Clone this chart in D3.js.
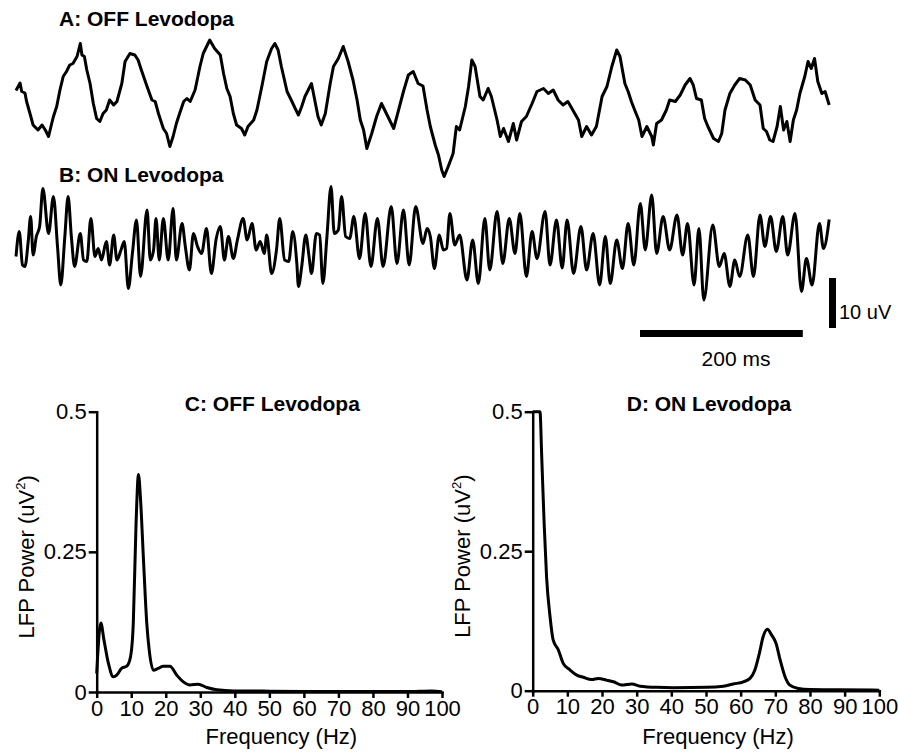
<!DOCTYPE html>
<html>
<head>
<meta charset="utf-8">
<script src="https://cdn.jsdelivr.net/npm/d3@7"></script>
<style>
  body { margin: 0; background: #fff; }
  svg { display: block; font-family: "Liberation Sans", Arial, sans-serif; }
  .axis path, .axis line { stroke: #000; stroke-width: 2.5; }
  .axis text { font-size: 22px; fill: #000; }
</style>
</head>
<body>
<svg id="chart" width="899" height="754"></svg>
<script>
// raw LFP traces, [time ms, uV]
var traceOff = [[0,2.9],[5,4.4],[7,2.7],[11,2.4],[13,0.7],[17,-1.6],[21,-4.0],[27,-5.0],[32,-4.0],[36,-5.0],[40,-6.3],[44,-3.6],[46,-2.3],[50,-0.3],[54,3.0],[58,5.7],[62,6.7],[66,8.0],[70,8.3],[75,9.7],[79,12.3],[81,10.0],[84,9.7],[87,7.0],[91,4.3],[95,0.3],[99,-2.7],[103,-3.3],[107,-1.7],[111,-1.0],[115,1.0],[120,0],[124,0.7],[130,4.3],[134,8.7],[140,10.3],[146,10.0],[150,9.0],[154,7.0],[161,3.7],[167,1.0],[171,0.7],[175,-1.7],[181,-4.7],[185,-5.7],[189,-8.3],[193,-6.3],[197,-3.7],[201,-1.7],[206,0.7],[210,1.3],[214,0.7],[220,3.0],[226,7.7],[230,10.3],[238,13.0],[244,11.3],[251,10.0],[255,6.3],[259,3.3],[263,1.7],[267,-1.7],[271,-4.0],[277,-4.7],[281,-6.0],[285,-4.3],[292,-3.0],[296,-1.0],[302,3.7],[308,8.7],[314,11.3],[318,12.3],[322,11.0],[326,7.7],[333,2.7],[339,0.7],[343,-0.7],[347,-2.0],[351,-0.3],[355,1.7],[359,3.0],[363,4.3],[367,1.0],[371,-2.3],[375,-4.0],[380,-1.7],[386,4.3],[390,7.7],[396,9.3],[402,11.7],[408,8.7],[414,5.0],[419,1.0],[423,-3.0],[427,-5.0],[431,-8.7],[437,-5.7],[443,-2.3],[449,0.3],[455,-1.7],[464,-4.7],[470,-1.0],[476,2.7],[482,6.0],[488,6.7],[494,4.3],[500,3.8],[505,-1.0],[509,-4.3],[515,-8.0],[519,-10.0],[523,-13.0],[526,-14.3],[531,-12.3],[537,-9.7],[541,-4.3],[545,-5.0],[552,-0.3],[556,3.7],[560,9.0],[564,7.7],[570,1.7],[574,1.0],[580,3.3],[584,1.7],[591,-3.0],[595,-6.3],[599,-4.7],[605,-7.3],[611,-3.7],[615,-7.0],[621,-3.3],[627,-2.3],[634,0.3],[640,2.7],[648,3.3],[654,2.3],[660,3.0],[666,1.0],[672,0],[678,0.7],[684,-1.0],[691,-3.0],[695,-6.3],[701,-4.3],[707,-6.0],[713,-4.3],[720,1.7],[726,3.7],[732,7.7],[738,11.0],[742,9.7],[748,4.3],[752,2.7],[756,0.7],[760,-1.0],[765,-3.0],[769,-6.3],[775,-4.3],[781,-6.3],[783,-8.0],[787,-3.7],[793,-3.0],[799,-1.0],[803,1.0],[810,0.7],[816,2.0],[822,4.0],[828,5.3],[832,4.0],[836,1.3],[842,1.0],[846,-2.7],[850,-4.3],[857,-6.7],[863,-7.3],[867,-5.7],[871,-1.0],[877,2.3],[883,4.0],[889,5.3],[896,5.0],[902,4.0],[908,1.0],[914,0],[918,-4.7],[922,-5.3],[926,-7.0],[930,-7.3],[935,-4.3],[939,-0.3],[943,-5.0],[947,-3.3],[951,-7.3],[955,-3.0],[959,-1.0],[963,2.3],[969,5.7],[973,8.7],[977,7.3],[981,9.3],[985,4.7],[990,2.3],[994,2.7],[999,0]];

var traceOn = [[0,-3.3],[4,1.7],[8,-5.0],[11,-5.3],[15,-0.3],[18,4.7],[21,-3.0],[25,0.7],[29,2.7],[33,10.3],[40,1.3],[46,8.7],[51,-1.3],[55,-9.0],[60,0.7],[64,8.7],[68,0.7],[72,-5.3],[79,1.3],[83,-4.0],[87,-4.3],[92,4.3],[97,-3.3],[101,-1.7],[105,-4.0],[111,-0.3],[115,-5.0],[120,1.0],[124,-4.0],[129,-2.0],[133,-0.3],[138,-9.7],[143,-2.7],[148,4.0],[153,-7.3],[161,6.0],[165,-4.0],[169,-2.0],[172,4.3],[176,-4.0],[181,4.3],[187,-4.0],[193,6.3],[197,-4.0],[204,3.3],[208,-1.3],[213,-6.0],[218,1.3],[223,-1.3],[228,-2.7],[234,2.3],[240,-6.7],[246,0.3],[251,2.7],[256,-4.0],[261,0.7],[267,-3.7],[272,0],[279,4.3],[284,0],[290,3.3],[295,-2.0],[300,-0.3],[305,-2.7],[308,1.0],[314,-6.7],[320,-2.0],[324,4.3],[330,-4.0],[335,-4.3],[340,1.7],[345,-4.7],[347,-9.3],[351,-5.3],[356,1.0],[360,-3.3],[363,-6.7],[369,1.3],[373,1.0],[377,-8.7],[382,0.7],[387,10.7],[391,1.3],[396,2.0],[400,8.7],[405,0.7],[410,0.3],[415,4.7],[422,-3.7],[429,5.3],[436,-5.3],[444,4.3],[451,-5.3],[461,6.7],[468,-4.7],[476,6.0],[483,-5.0],[491,6.7],[500,-0.7],[505,2.3],[509,0.7],[514,-5.7],[520,1.0],[525,-2.0],[529,-1.7],[533,5.3],[539,-1.0],[545,1.0],[554,-8.0],[561,0],[568,-8.7],[576,4.3],[582,-6.0],[591,5.7],[598,-4.7],[606,4.3],[613,-2.7],[619,5.3],[627,-7.3],[634,1.7],[640,-3.7],[650,5.7],[656,-5.0],[664,4.0],[671,-5.6],[677,4.0],[685,-6.7],[694,2.7],[701,-6.0],[709,1.3],[717,-9.0],[724,0.7],[730,-8.7],[738,0],[745,-5.7],[752,3.3],[759,-5.0],[767,7.3],[773,-2.0],[781,9.0],[787,-2.7],[795,4.7],[803,-2.0],[812,5.0],[819,-3.0],[825,3.3],[833,-9.0],[839,2.3],[845,-12.0],[856,3.0],[864,-5.3],[870,-2.7],[877,-9.3],[883,-4.0],[889,-7.3],[899,1.0],[906,-7.3],[914,5.0],[920,-1.3],[927,4.7],[934,-2.3],[942,4.7],[948,-3.0],[957,5.3],[965,-10.3],[971,-3.7],[978,-9.0],[987,3.3],[992,-1.7],[999,4.1]];

// power spectra
var offFreq  = [0, 0.8, 1.2, 2.1, 3.4, 4.8, 5.8, 7.2, 8.7, 9.8, 10.6, 11.4, 12.1, 12.7, 13.5, 14.5, 15.2, 16.4, 17.8, 19.3, 21.2, 23.2, 25.1, 27, 29.4, 31.9, 34.8, 39.7, 45, 50, 60, 70, 80, 90, 97, 100];
var offPower = [0.033, 0.11, 0.123, 0.093, 0.051, 0.027, 0.030, 0.042, 0.046, 0.063, 0.123, 0.301, 0.388, 0.343, 0.242, 0.123, 0.075, 0.039, 0.042, 0.046, 0.046, 0.030, 0.018, 0.0125, 0.014, 0.008, 0.004, 0.002, 0.002, 0.0015, 0.001, 0.001, 0.0008, 0.0008, 0.002, 0.0005];
var onFreq  = [0, 1, 2.1, 2.6, 3.3, 4.0, 5.0, 5.9, 7.4, 8.8, 10.8, 12.7, 14.6, 17, 18.9, 21.3, 23.3, 25.7, 28.6, 31, 35.8, 40.6, 50.2, 55, 57.9, 60.8, 62.7, 64.1, 65.4, 66.5, 67.7, 68.9, 70.2, 71.4, 72.8, 74.2, 76.6, 80, 88, 100];
var onPower = [0.5, 0.5, 0.5, 0.42, 0.30, 0.204, 0.133, 0.091, 0.073, 0.049, 0.037, 0.028, 0.024, 0.020, 0.022, 0.019, 0.016, 0.010, 0.012, 0.008, 0.006, 0.0055, 0.006, 0.008, 0.012, 0.016, 0.022, 0.037, 0.067, 0.097, 0.110, 0.100, 0.085, 0.055, 0.025, 0.010, 0.004, 0.002, 0.0015, 0.001];

var powerTicks = [0, 0.25, 0.5];
var freqTicks = d3.range(0, 101, 10);

var svg = d3.select('#chart');

// traces
var xT = d3.scaleLinear().domain([0, 1000]).range([16, 830]);
var yA = d3.scaleLinear().domain([-10, 10]).range([155, 55]);
var yB = d3.scaleLinear().domain([-10, 10]).range([290, 190]);

svg.append('text').attr('x', 59).attr('y', 26)
  .style('font-size', '21px').style('font-weight', 'bold').text('A: OFF Levodopa');
svg.append('text').attr('x', 59).attr('y', 182)
  .style('font-size', '21px').style('font-weight', 'bold').text('B: ON Levodopa');

svg.append('path').datum(traceOff)
  .attr('fill', 'none').attr('stroke', '#000').attr('stroke-width', 3)
  .attr('stroke-linejoin', 'round')
  .attr('d', d3.line().x(function(d) { return xT(d[0]); }).y(function(d) { return yA(d[1]); }));

svg.append('path').datum(traceOn)
  .attr('fill', 'none').attr('stroke', '#000').attr('stroke-width', 3)
  .attr('stroke-linejoin', 'round')
  .attr('d', d3.line().curve(d3.curveMonotoneX)
    .x(function(d) { return xT(d[0]); }).y(function(d) { return yB(d[1]); }));

// scale bars: 10 uV and 200 ms
var barTop = 278;
svg.append('rect').attr('x', 829).attr('y', barTop)
  .attr('width', 7).attr('height', yB(0) - yB(10)).attr('fill', '#000');
svg.append('text').attr('x', 839).attr('y', 319).style('font-size', '20px').text('10 uV');

var barX = 640;
svg.append('rect').attr('x', barX).attr('y', 330)
  .attr('width', xT(200) - xT(0)).attr('height', 7).attr('fill', '#000');
svg.append('text').attr('x', 736).attr('y', 366)
  .attr('text-anchor', 'middle').style('font-size', '21px').text('200 ms');

// spectra
function spectrum(left, right, bottom, top, freq, power, title) {
  var x = d3.scaleLinear().domain([0, 100]).range([left, right]);
  var y = d3.scaleLinear().domain([0, 0.5]).range([bottom, top]);
  var g = svg.append('g');

  g.append('g').attr('class', 'axis')
    .attr('transform', 'translate(0,' + bottom + ')')
    .call(d3.axisBottom(x).tickValues(freqTicks).tickSize(6).tickSizeOuter(0).tickPadding(2));
  g.append('g').attr('class', 'axis')
    .attr('transform', 'translate(' + left + ',0)')
    .call(d3.axisLeft(y).tickValues(powerTicks).tickSize(8).tickSizeOuter(0).tickPadding(2)
      .tickFormat(function(d) { return d === 0 ? '0' : String(d); }));
  g.selectAll('.axis .domain').attr('stroke-linecap', 'square');

  g.append('path').datum(d3.zip(freq, power))
    .attr('fill', 'none').attr('stroke', '#000').attr('stroke-width', 3)
    .attr('stroke-linejoin', 'round')
    .attr('d', d3.line().curve(d3.curveMonotoneX)
      .x(function(d) { return x(d[0]); }).y(function(d) { return y(d[1]); }));

  g.append('text').attr('x', (left + right) / 2 + 3).attr('y', top - 1)
    .attr('text-anchor', 'middle').style('font-size', '21px').style('font-weight', 'bold')
    .text(title);
  g.append('text').attr('x', (left + right) / 2 + 12).attr('y', 744)
    .attr('text-anchor', 'middle').style('font-size', '22px').text('Frequency (Hz)');

  var yl = g.append('text')
    .attr('transform', 'translate(' + (left - 63) + ',' + ((top + bottom) / 2 + 5) + ') rotate(-90)')
    .attr('text-anchor', 'middle').style('font-size', '22px');
  yl.append('tspan').text('LFP Power (uV');
  yl.append('tspan').attr('dy', -9).style('font-size', '13px').text('2');
  yl.append('tspan').attr('dy', 9).text(')');
}

spectrum(96.7, 442, 692, 411.7, offFreq, offPower, 'C: OFF Levodopa');
spectrum(532.7, 879.3, 690.7, 411.7, onFreq, onPower, 'D: ON Levodopa');
</script>
</body>
</html>
